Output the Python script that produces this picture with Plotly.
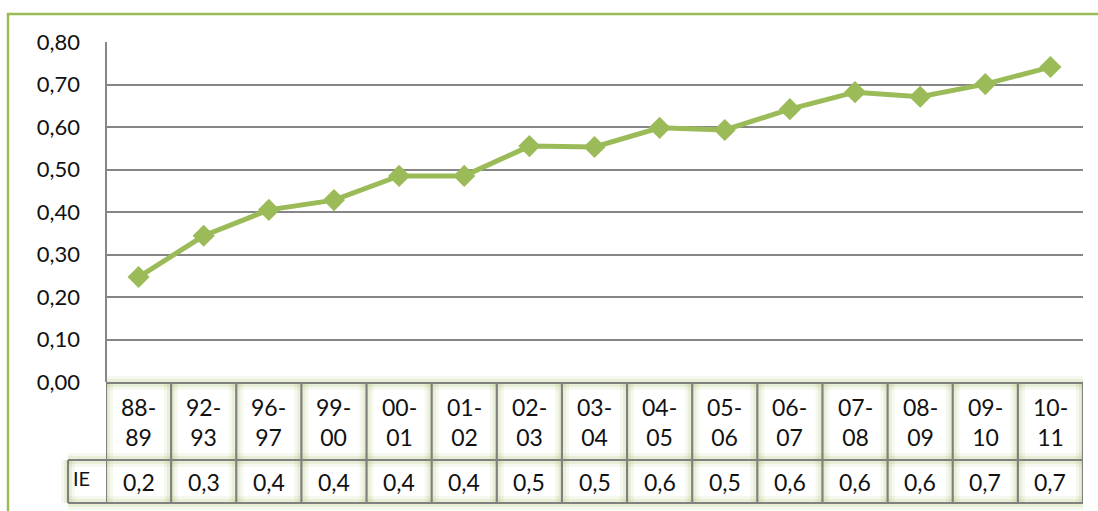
import plotly.graph_objects as go

categories = ["88-89", "92-93", "96-97", "99-00", "00-01", "01-02", "02-03", "03-04",
              "04-05", "05-06", "06-07", "07-08", "08-09", "09-10", "10-11"]
ie_values = [0.247, 0.344, 0.405, 0.428, 0.485, 0.485, 0.555, 0.553,
             0.598, 0.593, 0.642, 0.682, 0.671, 0.701, 0.741]
table_labels = ["0,2", "0,3", "0,4", "0,4", "0,4", "0,4", "0,5", "0,5",
                "0,6", "0,5", "0,6", "0,6", "0,6", "0,7", "0,7"]
series_name = "IE"
y_ticks = [0, 0.1, 0.2, 0.3, 0.4, 0.5, 0.6, 0.7, 0.8]

W, H = 1098, 511
L, R, T, B = 106, 15, 42, 129
pw, ph = W - L - R, H - T - B
GREEN = "#9BBB59"
GRID = "#868686"
FONT = "Lato"

def px_x(px):
    return (px - L) / pw

def px_y(py):
    return 1 - (py - T) / ph

n = len(categories)
xs = list(range(n))

fig = go.Figure()
fig.add_trace(go.Scatter(
    x=xs, y=ie_values, mode="lines+markers", name=series_name,
    line=dict(color=GREEN, width=5),
    marker=dict(symbol="diamond", size=17, color=GREEN),
    cliponaxis=False, showlegend=False,
))

shapes = []
# outer green frame (left + top)
shapes.append(dict(type="line", xref="paper", yref="paper",
                   x0=px_x(8), x1=px_x(8), y0=px_y(13), y1=px_y(520),
                   line=dict(color=GREEN, width=2.5)))
shapes.append(dict(type="line", xref="paper", yref="paper",
                   x0=px_x(7), x1=px_x(1110), y0=px_y(14), y1=px_y(14),
                   line=dict(color=GREEN, width=2.5)))

# table geometry
row1_top, row1_bot, row2_bot = px_y(383), px_y(460), px_y(503)
ie_left = px_x(68)
glows = [dict(color="rgba(155,187,89,0.10)", width=14),
         dict(color="rgba(155,187,89,0.15)", width=8)]
border = dict(color="#808080", width=2.2)

for style in glows + [border]:
    shapes.append(dict(type="line", xref="x", yref="paper", x0=-0.5, x1=n - 0.5,
                       y0=row1_top, y1=row1_top, line=style, layer="below"))
    for yy in (row1_bot, row2_bot):
        shapes.append(dict(type="line", xref="paper", yref="paper", x0=ie_left, x1=1.0,
                           y0=yy, y1=yy, line=style, layer="below"))
    for i in range(n + 1):
        shapes.append(dict(type="line", xref="x", yref="paper", x0=i - 0.5, x1=i - 0.5,
                           y0=row1_top, y1=row2_bot, line=style, layer="below"))
    shapes.append(dict(type="line", xref="paper", yref="paper", x0=ie_left, x1=ie_left,
                       y0=row1_bot, y1=row2_bot, line=style, layer="below"))

# left axis line
shapes.append(dict(type="line", xref="paper", yref="paper", x0=0, x1=0,
                   y0=0, y1=1, line=dict(color=GRID, width=2)))

annotations = []
tfont = dict(family=FONT, size=23, color="#111")
for i, (c, v) in enumerate(zip(categories, table_labels)):
    a, b = c.split("-")
    annotations.append(dict(x=i, y=(row1_top + row1_bot) / 2, xref="x", yref="paper",
                            text=f"{a}-<br>{b}", showarrow=False, font=tfont,
                            align="center", xanchor="center", yanchor="middle"))
    annotations.append(dict(x=i, y=(row1_bot + row2_bot) / 2, xref="x", yref="paper",
                            text=v, showarrow=False, font=tfont,
                            xanchor="center", yanchor="middle"))
annotations.append(dict(x=px_x(71), y=(row1_bot + row2_bot) / 2 + 0.01, xref="paper", yref="paper",
                        text=series_name, showarrow=False,
                        font=dict(family=FONT, size=20, color="#111"),
                        xanchor="left", yanchor="middle"))

fig.update_layout(
    width=W, height=H,
    margin=dict(l=L, r=R, t=T, b=B, pad=0),
    paper_bgcolor="white", plot_bgcolor="white",
    separators=",.",
    shapes=shapes, annotations=annotations,
    xaxis=dict(range=[-0.5, n - 0.5], showticklabels=False, showgrid=False,
               zeroline=False, showline=False, fixedrange=True),
    yaxis=dict(range=[0, 0.8], tickvals=y_ticks, tickformat=".2f",
               showgrid=True, gridcolor=GRID, gridwidth=1.5,
               zeroline=False, showline=False,
               ticks="", ticklabelstandoff=25,
               tickfont=dict(family=FONT, size=22, color="#111")),
    font=dict(family=FONT),
)

fig.write_html("out.html", config={"displayModeBar": False},
               post_script="document.body.style.margin='0';")
